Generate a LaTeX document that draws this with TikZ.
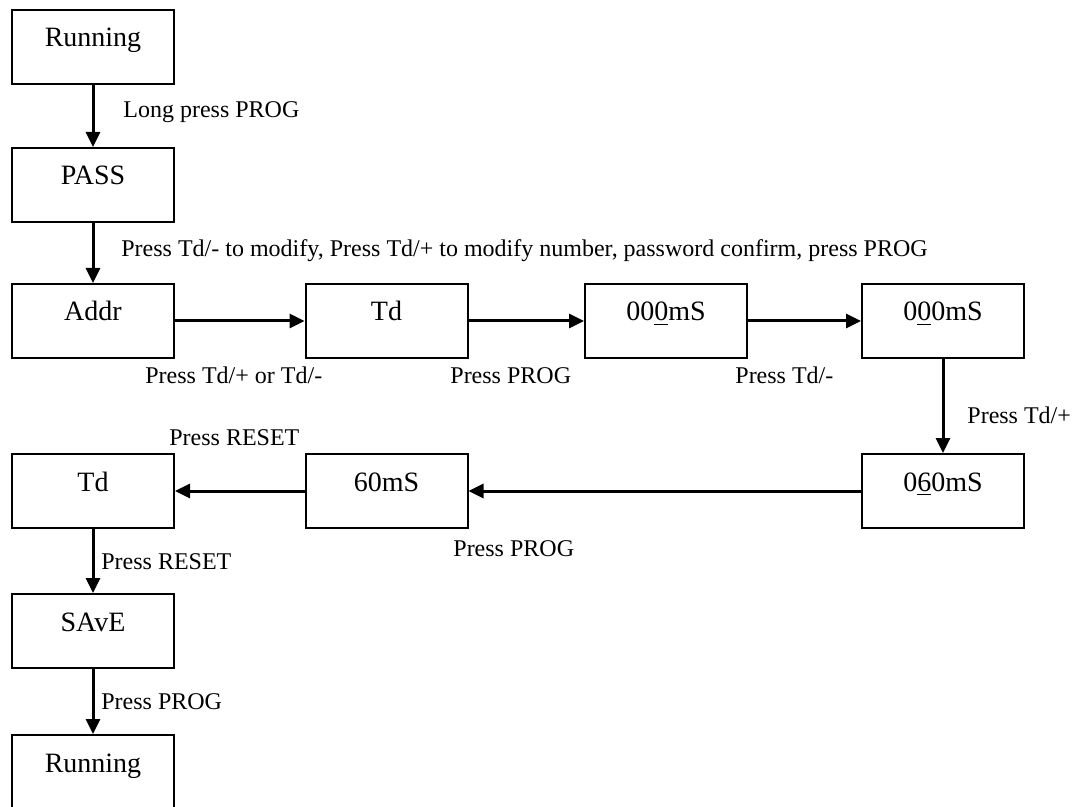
\documentclass[tikz,border=0pt]{standalone}
\usepackage{fontspec}
\setmainfont{Liberation Serif}
\usetikzlibrary{arrows.meta}
\tikzset{
  box/.style={draw, line width=1pt, minimum width=81pt, inner sep=0pt,
    text height=18.5pt, text depth=18.5pt, font=\fontsize{14}{16}\selectfont},
  lab/.style={inner sep=0pt, anchor=base west, font=\fontsize{12}{14}\selectfont},
  conn/.style={line width=1.5pt, -{Triangle[length=7.5pt,width=7pt]}}
}
\begin{document}
\begin{tikzpicture}[x=0.5pt,y=-0.5pt]
\useasboundingbox (0,0) rectangle (1075,807);
% boxes
\node[box] (run1) at (93,47) {Running};
\node[box] (pass) at (93,185) {PASS};
\node[box] (addr) at (93,321) {Addr};
\node[box] (td1) at (386.5,321) {Td};
\node[box] (ms1) at (666,321) {00\underline{0}mS};
\node[box] (ms2) at (943,321) {0\underline{0}0mS};
\node[box] (ms3) at (943,491) {0\underline{6}0mS};
\node[box] (s60) at (386.5,491) {60mS};
\node[box] (td2) at (93,491) {Td};
\node[box] (save) at (93,631) {SAvE};
\node[box] (run2) at (93,772) {Running};
% connectors
\draw[conn] (run1) -- (pass);
\draw[conn] (pass) -- (addr);
\draw[conn] (addr) -- (td1);
\draw[conn] (td1) -- (ms1);
\draw[conn] (ms1) -- (ms2);
\draw[conn] (ms2) -- (ms3);
\draw[conn] (ms3) -- (s60);
\draw[conn] (s60) -- (td2);
\draw[conn] (td2) -- (save);
\draw[conn] (save) -- (run2);
% labels
\node[lab] (l1) at (123,118) {Long press PROG};
\node[lab] (l2) at (121,257) {Press Td/- to modify, Press Td/+ to modify number, password confirm, press PROG};
\node[lab] (l3) at (145,383) {Press Td/+ or Td/-};
\node[lab] (l4) at (450,383) {Press PROG};
\node[lab] (l5) at (735,384) {Press Td/-};
\node[lab] (l6) at (967,423) {Press Td/+};
\node[lab] (l7) at (169,445) {Press RESET};
\node[lab] (l8) at (453,556) {Press PROG};
\node[lab] (l9) at (101,569) {Press RESET};
\node[lab] (l10) at (101,709) {Press PROG};
\end{tikzpicture}
\end{document}
